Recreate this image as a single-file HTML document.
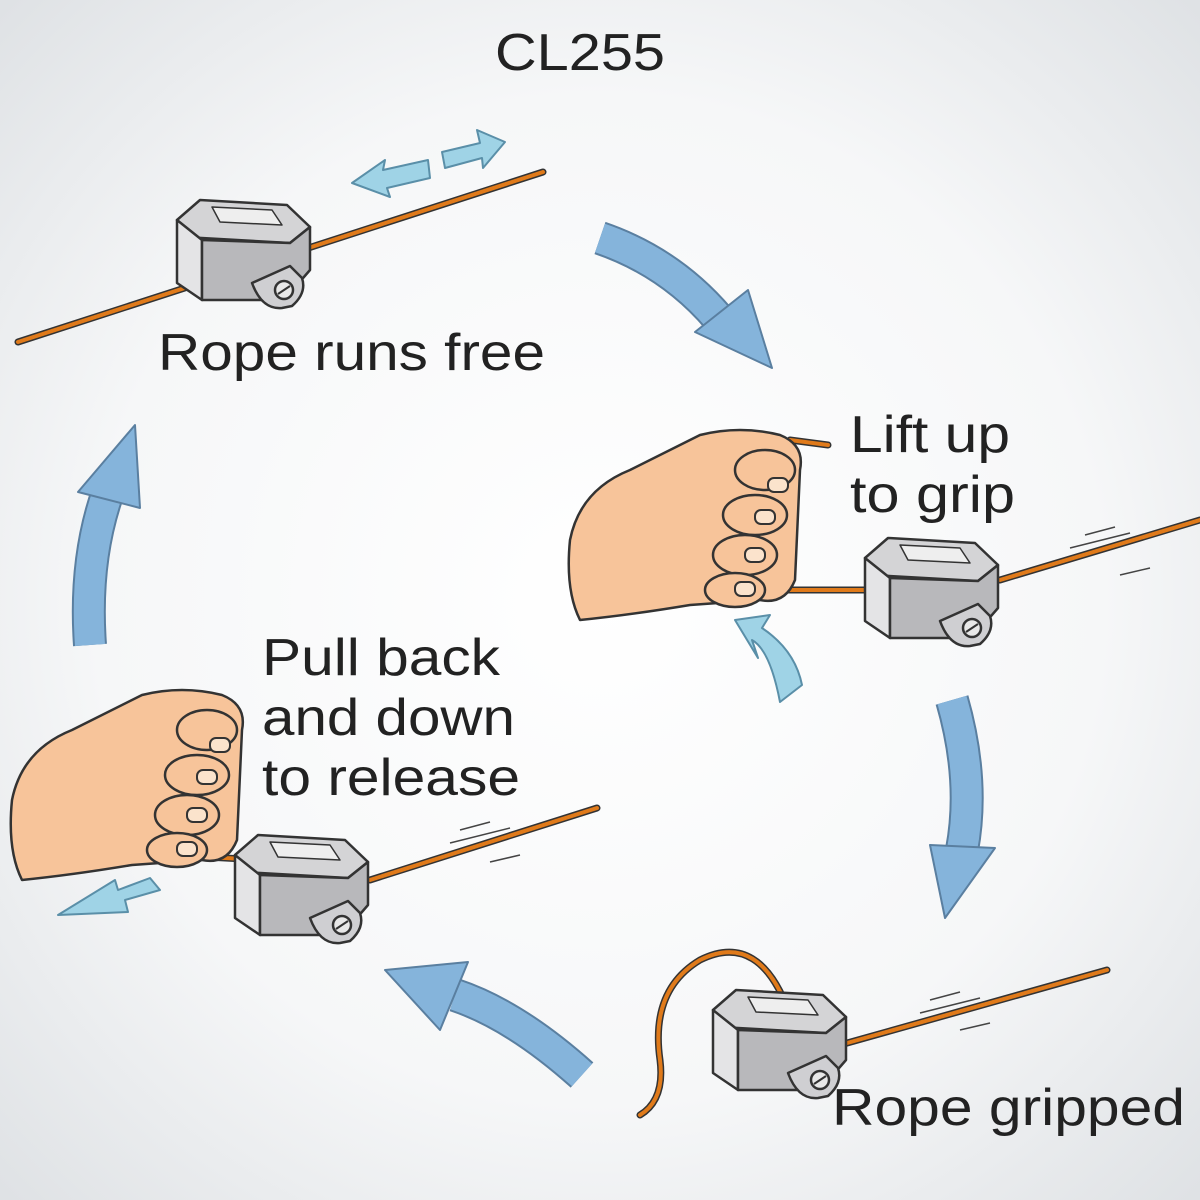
<!DOCTYPE html>
<html><head><meta charset="utf-8"><style>
html,body{margin:0;padding:0;width:1200px;height:1200px;overflow:hidden}
text{font-family:"Liberation Sans",sans-serif;fill:#222}
</style></head><body>
<svg width="1200" height="1200" viewBox="0 0 1200 1200" xmlns="http://www.w3.org/2000/svg">
<defs>
<radialGradient id="bg" cx="50%" cy="50%" r="70%">
<stop offset="0" stop-color="#ffffff"/><stop offset="0.6" stop-color="#f6f7f8"/><stop offset="1" stop-color="#dfe2e5"/>
</radialGradient>
<g id="cleat" stroke="#333" stroke-width="2.5" stroke-linejoin="round">
<polygon points="5,25 28,5 115,10 138,32 118,48 12,42" fill="#d4d4d6"/>
<polygon points="5,25 30,45 30,105 5,88" fill="#e4e4e6"/>
<polygon points="30,45 118,48 138,32 138,75 112,105 30,105" fill="#b8b8bb"/>
<path d="M40,12 L100,15 L110,30 L48,27 Z" fill="#eee" stroke-width="1.5"/>
<path d="M80,88 Q90,115 110,113 L120,111 Q135,98 130,83 L118,71 Z" fill="#cfcfd2"/>
<circle cx="112" cy="95" r="9" fill="#e8e8e8"/>
<line x1="106" y1="99" x2="118" y2="91" stroke-width="2"/>
</g>
<g id="hand" stroke="#333" stroke-width="2.5" stroke-linejoin="round" fill="#f7c49a">
<path d="M0,110 Q10,60 60,40 Q100,20 130,5 Q170,-5 210,5 Q235,15 230,40 L225,150 Q215,175 190,170 L120,175 Q60,185 10,190 Q-5,160 0,110 Z"/>
<ellipse cx="195" cy="40" rx="30" ry="20"/>
<ellipse cx="185" cy="85" rx="32" ry="20"/>
<ellipse cx="175" cy="125" rx="32" ry="20"/>
<ellipse cx="165" cy="160" rx="30" ry="17"/>
<g fill="#fbe3cc" stroke-width="2"><rect x="198" y="48" width="20" height="14" rx="6"/><rect x="185" y="80" width="20" height="14" rx="6"/><rect x="175" y="118" width="20" height="14" rx="6"/><rect x="165" y="152" width="20" height="14" rx="6"/></g>
</g>
</defs>
<rect width="1200" height="1200" fill="url(#bg)"/>

<text x="495" y="70" font-size="52" textLength="170" lengthAdjust="spacingAndGlyphs">CL255</text>

<!-- big arrows -->
<g fill="none" stroke-linecap="butt">
<g stroke="#5a7fa0" stroke-width="34">
<path d="M600,238 Q670,262 718,318"/>
<path d="M952,700 Q975,780 962,850"/>
<path d="M582,1075 Q515,1015 455,995"/>
<path d="M90,645 Q84,560 108,492"/>
</g>
<g stroke="#85b4db" stroke-width="30">
<path d="M600,238 Q670,262 718,318"/>
<path d="M952,700 Q975,780 962,850"/>
<path d="M582,1075 Q515,1015 455,995"/>
<path d="M90,645 Q84,560 108,492"/>
</g>
</g>
<g fill="#85b4db" stroke="#5a7fa0" stroke-width="2" stroke-linejoin="round">
<polygon points="695,332 748,290 772,368"/>
<polygon points="930,845 995,848 945,918"/>
<polygon points="385,970 468,962 440,1030"/>
<polygon points="78,492 135,425 140,508"/>
</g>
<g fill="#9fd3e6" stroke="#5a8fa8" stroke-width="2" stroke-linejoin="round">
<path d="M352,183 L385,160 L383,170 L428,160 L430,178 L387,188 L390,197 Z"/>
<path d="M442,152 L480,143 L477,130 L505,142 L483,168 L482,158 L445,168 Z"/>
<path d="M780,702 Q770,650 752,640 L758,658 L735,620 L770,615 L762,628 Q795,650 802,685 Z"/>
<path d="M160,890 L125,900 L128,912 L58,915 L115,880 L118,890 L150,878 Z"/>
</g>

<!-- ropes -->
<g stroke="#333" stroke-width="7" stroke-linecap="round" fill="none">
<line x1="18" y1="342" x2="543" y2="172"/>
<line x1="760" y1="590" x2="890" y2="590"/><line x1="1000" y1="580" x2="1200" y2="520"/>
<line x1="790" y1="440" x2="828" y2="445"/>
<line x1="170" y1="855" x2="300" y2="862"/><line x1="370" y1="880" x2="597" y2="808"/>
<line x1="1107" y1="970" x2="840" y2="1045"/>
<path d="M790,1015 Q760,930 700,960 Q650,990 660,1060 Q665,1100 640,1115"/>
</g>
<g stroke="#e07a1a" stroke-width="4" stroke-linecap="round" fill="none">
<line x1="18" y1="342" x2="543" y2="172"/>
<line x1="760" y1="590" x2="890" y2="590"/><line x1="1000" y1="580" x2="1200" y2="520"/>
<line x1="790" y1="440" x2="828" y2="445"/>
<line x1="170" y1="855" x2="300" y2="862"/><line x1="370" y1="880" x2="597" y2="808"/>
<line x1="1107" y1="970" x2="840" y2="1045"/>
<path d="M790,1015 Q760,930 700,960 Q650,990 660,1060 Q665,1100 640,1115"/>
</g>
<g stroke="#444" stroke-width="1.5">
<line x1="1085" y1="535" x2="1115" y2="527"/><line x1="1070" y1="548" x2="1130" y2="533"/><line x1="1120" y1="575" x2="1150" y2="568"/>
<line x1="460" y1="830" x2="490" y2="822"/><line x1="450" y1="843" x2="510" y2="828"/><line x1="490" y1="862" x2="520" y2="855"/>
<line x1="930" y1="1000" x2="960" y2="992"/><line x1="920" y1="1013" x2="980" y2="998"/><line x1="960" y1="1030" x2="990" y2="1023"/>
</g>

<use href="#cleat" x="172" y="195"/>
<use href="#cleat" x="860" y="533"/>
<use href="#cleat" x="230" y="830"/>
<use href="#cleat" x="708" y="985"/>

<use href="#hand" x="570" y="430"/>
<use href="#hand" x="12" y="690"/>

<text x="158" y="370" font-size="52" textLength="387" lengthAdjust="spacingAndGlyphs">Rope runs free</text>
<text x="850" y="452" font-size="52" textLength="160" lengthAdjust="spacingAndGlyphs">Lift up</text>
<text x="850" y="512" font-size="52" textLength="165" lengthAdjust="spacingAndGlyphs">to grip</text>
<text x="262" y="675" font-size="52" textLength="238" lengthAdjust="spacingAndGlyphs">Pull back</text>
<text x="262" y="735" font-size="52" textLength="253" lengthAdjust="spacingAndGlyphs">and down</text>
<text x="262" y="795" font-size="52" textLength="258" lengthAdjust="spacingAndGlyphs">to release</text>
<text x="832" y="1125" font-size="52" textLength="353" lengthAdjust="spacingAndGlyphs">Rope gripped</text>
</svg>
</body></html>
